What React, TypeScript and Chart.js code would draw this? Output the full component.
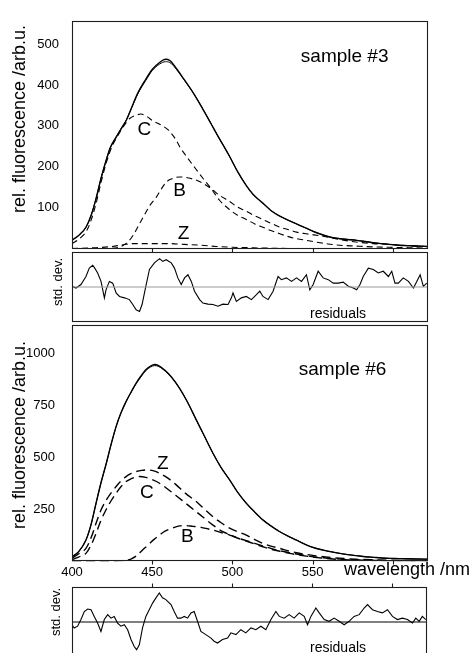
import React, { useEffect, useRef } from "react";
import { Chart, registerables } from "chart.js";

Chart.register(...registerables);

const FONT = '"Liberation Sans", Arial, Helvetica, sans-serif';
const W = 472;
const H = 653;

// ---------- axes ----------
const xMin = 400;
const xMax = 622;
const xTickMarks = [450, 500, 550, 600];
const xTickLabels = [400, 450, 500, 550];
const topYMax = 557;
const topYTicks = [100, 200, 300, 400, 500];
const botYMax = 1135;
const botYTicks = [250, 500, 750, 1000];

// ---------- sample #3 ----------
const topWl = [400, 405, 408.7, 412, 415, 418, 421.4, 424, 427.5, 431, 434, 437, 441, 446, 450, 454.6, 458.3, 461, 465, 470, 475.4, 480, 486.9, 491, 498.3, 503, 508.7, 513, 519, 524, 529.6, 535, 540, 546.4, 551, 556.6, 562, 567, 572, 577.5, 583, 588, 593, 598, 604, 609, 615, 622];
const topMeasured = [20, 35, 52, 82, 122, 170, 217, 248, 272, 295, 315, 343, 380, 414, 438, 455, 463, 460, 441, 413, 382, 352, 304, 275, 225, 190, 154, 132, 111, 93, 79, 69, 60, 49, 41, 33, 27, 24, 22, 20, 17, 14, 12, 10, 8, 7, 6, 5];
const topFit = [20, 35, 52, 82, 122, 170, 217, 247, 273, 296, 315, 342, 378, 411, 435, 451, 457, 455, 439, 412, 382, 352, 304, 275, 225, 190, 154, 132, 111, 93, 79, 69, 60, 49, 41, 33, 27, 24, 22, 20, 17, 14, 12, 10, 8, 7, 6, 5];

const topCWl = [400, 405, 410, 415, 418, 421.4, 425, 428, 432, 436, 440, 443, 447, 450.5, 454.6, 460, 465, 467, 472, 477.5, 482, 486.9, 492, 498.3, 503, 508.7, 514, 519, 524, 529.6, 535, 540, 546, 556.6, 567, 577, 588, 598, 610, 622];
const topC = [12, 25, 50, 110, 160, 210, 250, 272, 298, 318, 326, 329, 322, 312, 304, 290, 265, 250, 222, 193, 170, 146, 118, 95, 82, 71, 60, 52, 44, 36, 29, 24, 20, 13, 8, 6, 4, 3, 2, 1];

const topBWl = [400, 420, 428, 432, 435.8, 439, 442, 446, 449, 452.5, 455.6, 458.7, 462, 467, 472, 479.5, 486.9, 492, 498.3, 503, 508.7, 514, 519, 524, 529.6, 535, 540, 546, 556.6, 567, 577, 588, 598, 609, 622];
const topB = [0, 0, 2, 8, 20, 38, 60, 88, 108, 125, 145, 162, 170, 175, 173, 164, 146, 130, 115, 102, 91, 80, 71, 62, 52, 46, 40, 36, 30, 22, 16, 12, 10, 7, 5];

const topZWl = [400, 415, 425, 432, 437, 450, 460, 470, 480, 490, 500, 510, 520, 540, 560, 622];
const topZ = [0, 2, 5, 9, 12, 12, 12, 10, 8, 5, 3, 2, 1, 0, 0, 0];

const topLabelText = ["C", "B", "Z"];
const topLabelX = [445.2, 467.1, 469.6];
const topLabelY = [290, 142, 36];

// ---------- sample #6 ----------
const botWl = [400, 404, 408.7, 412, 415, 418, 421.4, 424.5, 427.5, 430.5, 433.7, 437, 440, 443, 446, 449, 451.5, 454, 458.3, 462, 467, 472, 477.5, 482, 487.9, 493, 498.3, 503, 508.7, 514, 519, 524, 529.6, 535, 540, 546.4, 551, 556.6, 562, 567, 572, 577.5, 583, 588, 593, 598, 604, 609, 615, 622];
const botMeasured = [22, 45, 102, 180, 279, 375, 471, 565, 647, 712, 767, 815, 856, 890, 920, 938, 945, 940, 915, 885, 832, 765, 679, 610, 519, 450, 391, 335, 279, 236, 199, 170, 142, 120, 102, 78, 65, 54, 45, 38, 32, 27, 22, 19, 16, 14, 13, 12, 11, 10];
const botFit = [22, 45, 102, 180, 279, 375, 471, 565, 647, 712, 767, 814, 853, 886, 916, 933, 940, 936, 912, 884, 832, 765, 679, 610, 519, 450, 391, 335, 279, 236, 199, 170, 142, 120, 102, 78, 65, 54, 45, 38, 32, 27, 22, 19, 16, 14, 13, 12, 11, 10];

const botZWl = [400, 404, 408.7, 412, 415, 418, 421.4, 424.5, 427.5, 430.5, 433.7, 437, 440, 443.5, 447.3, 451, 454.6, 460, 465, 471, 477.5, 482, 487.9, 493, 498.3, 503, 508.7, 514, 519, 524, 529.6, 535, 540, 546, 551, 556.6, 567, 577, 588, 598, 609, 622];
const botZ = [15, 35, 62, 115, 183, 245, 295, 330, 359, 385, 407, 422, 431, 437, 439, 434, 423, 398, 367, 325, 287, 255, 214, 185, 159, 143, 126, 104, 86, 73, 62, 50, 41, 33, 27, 22, 15, 10, 7, 5, 4, 3];

const botCWl = [400, 404, 408.7, 412, 415, 418, 421.4, 424.5, 427.5, 430.5, 433.7, 437, 440, 442, 446, 450, 454.6, 460, 465, 471, 477.5, 482, 487.9, 494, 498.3, 503, 508.7, 514, 519, 524, 529.6, 535, 540, 546, 551, 556.6, 567, 577, 588, 598, 609, 622];
const botC = [8, 20, 38, 80, 134, 195, 250, 292, 327, 358, 383, 397, 405, 407, 403, 392, 375, 345, 315, 278, 238, 210, 174, 142, 128, 112, 97, 83, 70, 58, 48, 39, 32, 25, 19, 15, 9, 6, 4, 3, 2, 2];

const botBWl = [400, 425, 430, 433.7, 437, 440, 444, 448, 451, 454.6, 458, 462, 467, 470, 475.4, 480.5, 485, 487.9, 493, 498.3, 503, 508.7, 514, 519, 524, 529.6, 535, 540, 546, 551, 556.6, 567, 577, 588, 598, 609, 622];
const botB = [0, 0, 2, 4, 12, 25, 54, 82, 104, 126, 145, 158, 170, 172, 168, 163, 155, 150, 138, 126, 113, 99, 86, 74, 62, 51, 42, 35, 27, 21, 17, 11, 7, 5, 3, 2, 2];

const botLabelText = ["Z", "C", "B"];
const botLabelX = [456.6, 446.7, 471.9];
const botLabelY = [468, 327, 117];

// ---------- residuals ----------
const resTopWl = [400, 402.5, 405.6, 408.7, 410.8, 412.9, 413.9, 416, 418.1, 420.2, 421.2, 423.3, 425.4, 427.5, 429.6, 432.7, 435.8, 437.9, 440, 442.1, 443.7, 445.8, 448.3, 451.4, 454.6, 456.6, 458.7, 461.9, 463.9, 466, 468.1, 470.2, 472.3, 474.4, 476.4, 479.6, 481.6, 484.8, 487.9, 491, 494.1, 497.3, 499.4, 500.4, 502.5, 505.6, 508.7, 511.9, 515, 517.1, 519.1, 522.3, 525.4, 528.5, 530.6, 533.7, 536.9, 540, 543.1, 546.2, 548.3, 550.4, 553.5, 556.6, 559.8, 562.9, 566, 569.1, 572.3, 575.4, 577.5, 579.6, 581.6, 584.8, 587.9, 591, 594.1, 597.3, 599.4, 601.4, 603.5, 606.6, 609.8, 612.9, 615, 617.1, 619.1, 621.2];
const resTop = [0.02, -0.03, 0.07, 0.30, 0.54, 0.62, 0.56, 0.40, 0.16, -0.31, -0.08, 0.16, 0.11, -0.17, -0.27, -0.31, -0.36, -0.50, -0.65, -0.70, -0.50, -0.03, 0.50, 0.69, 0.81, 0.73, 0.78, 0.69, 0.54, 0.26, 0.07, 0.26, 0.35, 0.16, -0.12, -0.36, -0.46, -0.49, -0.50, -0.55, -0.49, -0.50, -0.31, -0.17, -0.41, -0.31, -0.27, -0.36, -0.22, -0.12, -0.27, -0.36, -0.12, 0.30, 0.21, 0.26, 0.16, 0.26, 0.16, 0.35, -0.08, 0.07, 0.45, 0.26, 0.21, 0.11, 0.11, 0.14, 0.02, -0.03, -0.08, 0.07, 0.30, 0.54, 0.50, 0.40, 0.45, 0.30, 0.45, 0.11, 0.11, 0.26, 0.16, -0.03, 0.16, 0.35, 0.02, 0.11];

const resBotWl = [400, 401.4, 403.5, 405.6, 407.7, 409.8, 411.9, 413.9, 416, 418.1, 420.2, 422.3, 424.4, 426.4, 428.5, 430.6, 432.7, 434.8, 436.9, 438.9, 440.4, 442.1, 444.1, 446.2, 448.3, 450.4, 452.5, 454.6, 456.6, 458.7, 461.9, 463.9, 466, 468.1, 470.2, 472.3, 474.4, 476.4, 478.5, 480.6, 483.7, 486.9, 488.9, 491, 494.1, 497.3, 499.4, 502.5, 505.6, 508.7, 511.9, 515, 518.1, 521.2, 524.4, 527.5, 529.6, 532.7, 535.8, 538.9, 542.1, 545.2, 547.3, 549.4, 552.5, 554.6, 557.7, 560.8, 563.9, 567.1, 570.2, 573.3, 576.4, 579.6, 582.7, 584.8, 587.9, 591, 594.1, 597.3, 600.4, 603.5, 606.6, 609.8, 612.9, 615, 617.1, 619.1, 621.2];
const resBot = [-0.08, -0.17, -0.12, 0.07, 0.30, 0.37, 0.35, 0.16, -0.03, -0.27, 0.07, 0.21, 0.11, 0.16, -0.03, -0.12, -0.08, -0.22, -0.50, -0.70, -0.79, -0.65, -0.17, 0.16, 0.35, 0.54, 0.69, 0.83, 0.69, 0.64, 0.50, 0.30, 0.11, 0.11, 0.16, 0.11, 0.26, 0.30, 0.02, -0.27, -0.36, -0.46, -0.55, -0.60, -0.50, -0.46, -0.31, -0.36, -0.22, -0.31, -0.17, -0.22, -0.12, -0.22, 0.07, 0.30, 0.16, 0.11, 0.21, 0.11, 0.26, 0.16, -0.08, 0.16, 0.40, 0.26, 0.07, 0.02, 0.11, 0.02, -0.08, 0.02, 0.16, 0.21, 0.40, 0.50, 0.35, 0.30, 0.26, 0.35, 0.16, 0.07, 0.11, 0.07, -0.03, 0.11, 0.02, 0.16, 0.07];
const resZeroWl = [400, 622];
const resZero = [0, 0];

// ---------- helpers ----------
const pts = (xs: number[], ys: number[]) => xs.map((x, i) => ({ x, y: ys[i] }));

type TextItem = {
  text: string;
  x: number;
  y: number;
  data?: boolean;
  size: number;
  align?: CanvasTextAlign;
  baseline?: CanvasTextBaseline;
  rotate?: boolean;
};
type DecorCfg = {
  ticks?: { edge: "top" | "bottom"; dir: number; len: number };
  texts: TextItem[];
};

function decor(cfg: DecorCfg) {
  return {
    id: "decor",
    afterDraw(chart: any) {
      const { ctx, chartArea: a } = chart;
      const xs = chart.scales.x;
      const ys = chart.scales.y;
      ctx.save();
      ctx.strokeStyle = "#1e1e1e";
      ctx.lineWidth = 1.1;
      const l = Math.round(a.left) + 0.5;
      const t = Math.round(a.top) + 0.5;
      const r = Math.round(a.right) - 0.5;
      const b = Math.round(a.bottom) - 0.5;
      ctx.strokeRect(l, t, r - l, b - t);
      if (cfg.ticks) {
        ctx.beginPath();
        for (const v of xTickMarks) {
          const px = Math.round(xs.getPixelForValue(v)) + 0.5;
          const y0 = cfg.ticks.edge === "bottom" ? b : t;
          ctx.moveTo(px, y0);
          ctx.lineTo(px, y0 + cfg.ticks.dir * cfg.ticks.len);
        }
        ctx.stroke();
      }
      ctx.fillStyle = "#000";
      for (const it of cfg.texts) {
        const px = it.data ? xs.getPixelForValue(it.x) : it.x;
        const py = it.data ? ys.getPixelForValue(it.y) : it.y;
        ctx.save();
        ctx.font = `${it.size}px ${FONT}`;
        ctx.textAlign = it.align || "left";
        ctx.textBaseline = it.baseline || "alphabetic";
        ctx.translate(px, py);
        if (it.rotate) ctx.rotate(-Math.PI / 2);
        ctx.fillText(it.text, 0, 0);
        ctx.restore();
      }
      ctx.restore();
    },
  };
}

const solid = (data: any[], width: number) => ({
  data,
  borderColor: "#000",
  borderWidth: width,
  pointRadius: 0,
  fill: false,
  cubicInterpolationMode: "monotone" as const,
});
const dashed = (data: any[], width: number, dash: number[]) => ({
  data,
  borderColor: "#000",
  borderWidth: width,
  borderDash: dash,
  pointRadius: 0,
  fill: false,
  cubicInterpolationMode: "monotone" as const,
});
const jagged = (data: any[], color: string, width: number) => ({
  data,
  borderColor: color,
  borderWidth: width,
  pointRadius: 0,
  fill: false,
  tension: 0,
});

const baseOptions = (padding: any, scales: any) => ({
  responsive: false,
  animation: false,
  events: [],
  layout: { padding },
  plugins: { legend: { display: false }, tooltip: { enabled: false }, title: { display: false } },
  scales,
});

const xHidden = { type: "linear", min: xMin, max: xMax, display: false };

const yVisible = (max: number, ticks: number[], pad: number) => ({
  type: "linear",
  min: 0,
  max,
  afterFit: (s: any) => {
    s.width = 72;
  },
  afterBuildTicks: (s: any) => {
    s.ticks = ticks.map((v) => ({ value: v }));
  },
  grid: { display: false, drawTicks: false },
  border: { display: false },
  ticks: {
    padding: pad,
    color: "#000",
    font: { family: FONT, size: 13 },
    callback: (v: any) => String(v),
  },
});

function buildTop() {
  return {
    type: "line",
    data: {
      datasets: [
        dashed(pts(topZWl, topZ), 1.1, [6, 4]),
        dashed(pts(topBWl, topB), 1.1, [6, 4]),
        dashed(pts(topCWl, topC), 1.1, [6, 4]),
        solid(pts(topWl, topFit), 1),
        solid(pts(topWl, topMeasured), 1.4),
      ],
    },
    options: baseOptions(
      { left: 0, top: 13, right: W - 428, bottom: H - 248.5 },
      { x: xHidden, y: yVisible(topYMax, topYTicks, 13) }
    ),
    plugins: [
      decor({
        ticks: { edge: "bottom", dir: 1, len: 4 },
        texts: [
          { text: "rel. fluorescence /arb.u.", x: 25, y: 119, size: 18, align: "center", rotate: true },
          { text: "sample #3", x: 542.7, y: 457, data: true, size: 19 },
          ...topLabelText.map((t, i) => ({
            text: t,
            x: topLabelX[i],
            y: topLabelY[i],
            data: true,
            size: 19,
            align: "center" as CanvasTextAlign,
            baseline: "middle" as CanvasTextBaseline,
          })),
        ],
      }),
    ],
  };
}

function buildTopRes() {
  return {
    type: "line",
    data: {
      datasets: [jagged(pts(resZeroWl, resZero), "#9a9a9a", 1.2), jagged(pts(resTopWl, resTop), "#000", 1.1)],
    },
    options: baseOptions(
      { left: 72, top: 252, right: W - 428, bottom: H - 322 },
      { x: xHidden, y: { type: "linear", min: -1, max: 1, display: false } }
    ),
    plugins: [
      decor({
        texts: [
          { text: "std. dev.", x: 62, y: 282, size: 13, align: "center", rotate: true },
          { text: "residuals", x: 310, y: 318, size: 14 },
        ],
      }),
    ],
  };
}

function buildBot() {
  return {
    type: "line",
    data: {
      datasets: [
        dashed(pts(botBWl, botB), 1.4, [9, 5]),
        dashed(pts(botCWl, botC), 1.4, [9, 5]),
        dashed(pts(botZWl, botZ), 1.4, [9, 5]),
        solid(pts(botWl, botFit), 1),
        solid(pts(botWl, botMeasured), 1.4),
      ],
    },
    options: baseOptions(
      { left: 0, top: 325, right: W - 428, bottom: H - 561.3 - 20 },
      {
        x: {
          type: "linear",
          min: xMin,
          max: xMax,
          afterFit: (s: any) => {
            s.height = 20;
          },
          afterBuildTicks: (s: any) => {
            s.ticks = xTickLabels.map((v) => ({ value: v }));
          },
          grid: { display: false, drawTicks: false },
          border: { display: false },
          ticks: {
            padding: 3,
            maxRotation: 0,
            autoSkip: false,
            color: "#000",
            font: { family: FONT, size: 13 },
            callback: (v: any) => String(v),
          },
        },
        y: yVisible(botYMax, botYTicks, 17),
      }
    ),
    plugins: [
      decor({
        ticks: { edge: "bottom", dir: 1, len: 4 },
        texts: [
          { text: "rel. fluorescence /arb.u.", x: 25, y: 435, size: 18, align: "center", rotate: true },
          { text: "sample #6", x: 541.4, y: 896, data: true, size: 19 },
          { text: "wavelength /nm", x: 344, y: 575, size: 18 },
          ...botLabelText.map((t, i) => ({
            text: t,
            x: botLabelX[i],
            y: botLabelY[i],
            data: true,
            size: 19,
            align: "center" as CanvasTextAlign,
            baseline: "middle" as CanvasTextBaseline,
          })),
        ],
      }),
    ],
  };
}

const RES_BOT_H = 660;

function buildBotRes() {
  return {
    type: "line",
    data: {
      datasets: [jagged(pts(resZeroWl, resZero), "#000", 1), jagged(pts(resBotWl, resBot), "#000", 1.1)],
    },
    options: baseOptions(
      { left: 72, top: 587, right: W - 427, bottom: RES_BOT_H - 657 },
      { x: xHidden, y: { type: "linear", min: -1, max: 1, display: false } }
    ),
    plugins: [
      decor({
        ticks: { edge: "top", dir: -1, len: 4 },
        texts: [
          { text: "std. dev.", x: 60, y: 612, size: 13, align: "center", rotate: true },
          { text: "residuals", x: 310, y: 652, size: 14 },
        ],
      }),
    ],
  };
}

function ChartLayer({ build, height }: { build: () => any; height: number }) {
  const ref = useRef<HTMLCanvasElement | null>(null);
  useEffect(() => {
    if (!ref.current) return;
    const chart = new Chart(ref.current, build());
    return () => chart.destroy();
  }, []);
  return (
    <canvas
      ref={ref}
      width={W}
      height={height}
      style={{ position: "absolute", left: 0, top: 0, width: W, height, display: "block" }}
    />
  );
}

export default function App() {
  return (
    <div
      style={{
        position: "fixed",
        left: 0,
        top: 0,
        width: W,
        height: H,
        overflow: "hidden",
        background: "#fff",
      }}
    >
      <ChartLayer build={buildTop} height={H} />
      <ChartLayer build={buildTopRes} height={H} />
      <ChartLayer build={buildBot} height={H} />
      <ChartLayer build={buildBotRes} height={RES_BOT_H} />
    </div>
  );
}
